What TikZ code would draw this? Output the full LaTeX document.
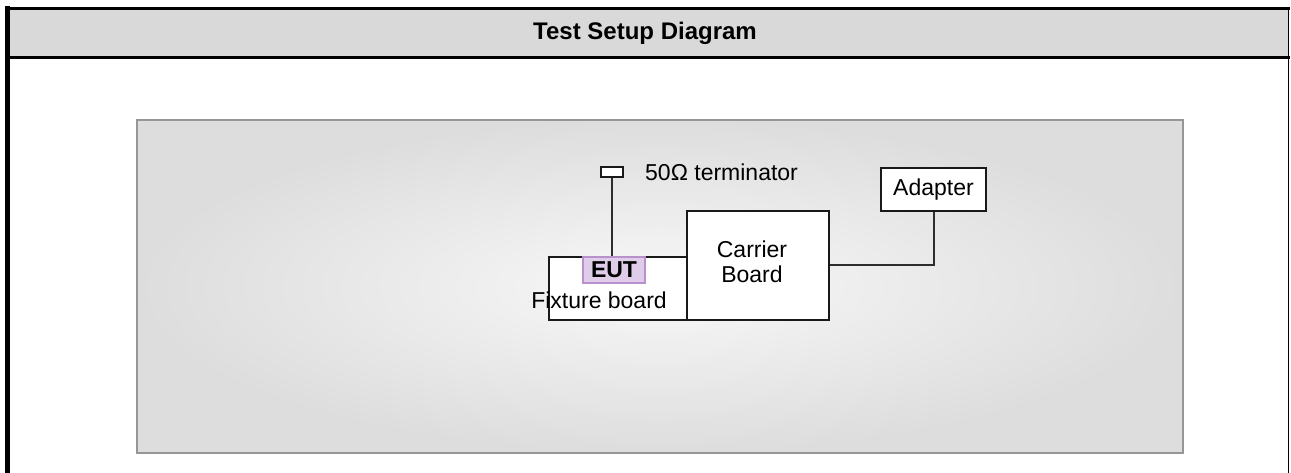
\documentclass[tikz,border=0pt]{standalone}
\usepackage{fontspec}
\setmainfont{Liberation Sans}
\usepackage{tikz}
\usetikzlibrary{positioning, calc}
\definecolor{cHead}{RGB}{217,217,217}
\definecolor{cPanIn}{RGB}{248,248,248}
\definecolor{cPanOut}{RGB}{221,221,221}
\definecolor{cPanEdge}{RGB}{150,150,150}
\definecolor{cEutFill}{RGB}{222,204,232}
\definecolor{cEutEdge}{RGB}{184,144,204}
\definecolor{cWire}{RGB}{45,45,45}

\begin{document}
\begin{tikzpicture}[x=1pt, y=-1pt, line join=miter,
                    board/.style={draw=black!90, fill=white, line width=2pt, inner sep=0pt,
                                  align=center, font=\fontsize{23}{26}\selectfont},
                    label/.style={inner sep=0pt, font=\fontsize{23}{26}\selectfont},
                    wire/.style={draw=cWire, line width=2pt}]
    \useasboundingbox (0,0) rectangle (1291,473);

    % Outer frame and header
    \fill[cHead] (7,9) rectangle (1289,57);
    \draw[line width=1.5pt] (1288.5,7) -- (1288.5,473);
    \draw[line width=3pt] (5,8.5) -- (1290,8.5);
    \draw[line width=3pt] (7,57.5) -- (1290,57.5);
    \draw[line width=5pt] (7.5,6) -- (7.5,473);
    \node[font=\fontsize{24}{28}\selectfont\bfseries] (title) at (645,33) {Test Setup Diagram};

    % Grey panel
    \shade[inner color=cPanIn, outer color=cPanOut] (137,120) rectangle (1183,453);
    \draw[cPanEdge, line width=2.5pt] (137,120) rectangle (1183,453);

    % Boards
    \node[board, minimum width=138pt, minimum height=63pt] (fixture) at (618,288.5) {};
    \node[board, minimum width=142pt, minimum height=109pt] (carrier) at (758,265.5) {};
    \node[label, align=center, font=\fontsize{23}{25}\selectfont] (carrierlbl) at (752,262) {Carrier\\Board};
    \node[board, minimum width=105pt, minimum height=43pt] (adapter) at (933.5,189.5) {Adapter};
    \node[draw=cEutEdge, fill=cEutFill, line width=1.5pt, inner sep=0pt,
          minimum width=62pt, minimum height=26pt,
          font=\fontsize{23}{26}\selectfont\bfseries] (eut) at (614,270) {EUT};
    \node[label] (fixlbl) at (599,300) {Fixture board};

    % Terminator
    \node[draw=black!90, fill=white, line width=1.8pt, inner sep=0pt,
          minimum width=22pt, minimum height=10pt] (term) at (612,172) {};
    \node[label, anchor=west] (termlbl) at (645,172) {50Ω terminator};

    % Connections
    \draw[wire] (term.south) -- (term.south |- eut.north);
    \draw[wire] (adapter.south) |- (carrier.east);
\end{tikzpicture}
\end{document}
